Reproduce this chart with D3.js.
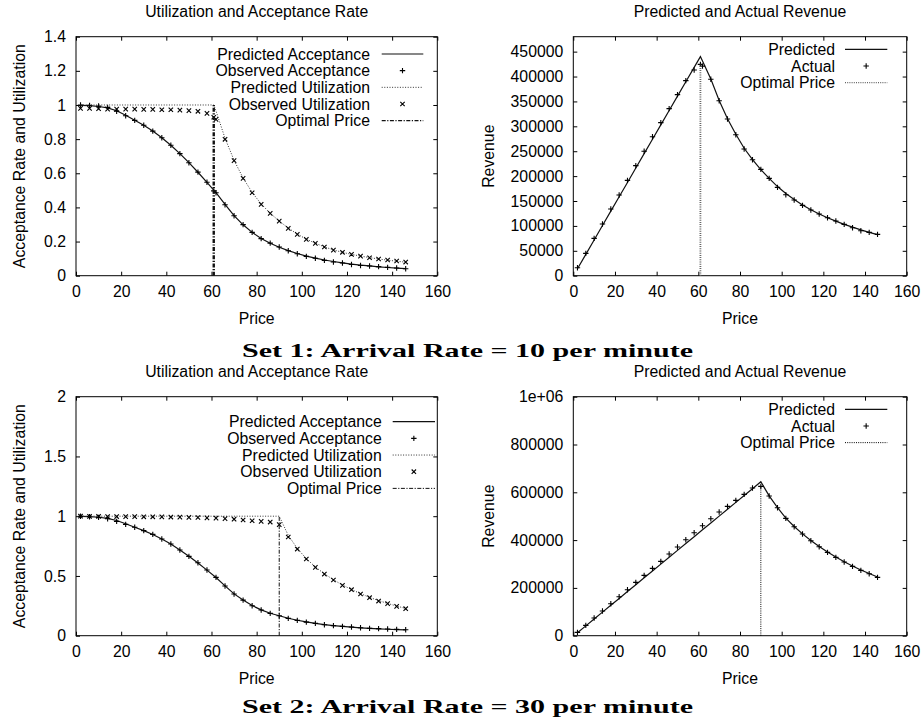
<!DOCTYPE html>
<html>
<head>
<meta charset="utf-8">
<script src="https://cdn.jsdelivr.net/npm/d3@7"></script>
<style>
    body { margin: 0; background: #fff; }
    svg text { font-family: "Liberation Sans", Arial, Helvetica, sans-serif; fill: #000; }
    svg text.caption { font-family: "Liberation Serif", "DejaVu Serif", serif; font-weight: bold; }
</style>
</head>
<body>
<div id="chart"></div>
<script>
// ---- data ----
var x_ticks = [0, 20, 40, 60, 80, 100, 120, 140, 160];
var util_ticks_1 = [0, 0.2, 0.4, 0.6, 0.8, 1, 1.2, 1.4];
var util_ticks_2 = [0, 0.5, 1, 1.5, 2];
var revenue_ticks_1 = [0, 50000, 100000, 150000, 200000, 250000, 300000, 350000, 400000, 450000];
var revenue_ticks_2 = [0, 200000, 400000, 600000, 800000, 1000000];

var captions = ["Set 1: Arrival Rate = 10 per minute", "Set 2: Arrival Rate = 30 per minute"];
var optimal_price = [61, 90];
var optimal_revenue = [424500, 624800];

// set 1 (10 per minute)
var price_1 = [2, 6, 10, 14, 18, 22, 26, 30, 34, 38, 42, 46, 50, 54, 58, 61, 62, 66, 70, 74,
    78, 82, 86, 90, 94, 98, 102, 106, 110, 114, 118, 122, 126, 130, 134, 138, 142, 146];
var pred_accept_1 = [0.998, 0.996, 0.991, 0.983, 0.966, 0.940, 0.911, 0.881, 0.847, 0.808,
    0.764, 0.715, 0.662, 0.606, 0.547, 0.501, 0.486, 0.418, 0.352, 0.298, 0.254, 0.218, 0.190,
    0.167, 0.147, 0.130, 0.115, 0.103, 0.092, 0.083, 0.075, 0.068, 0.062, 0.057, 0.052, 0.048,
    0.044, 0.041];
var obs_accept_1 = [1.0, 0.998, 0.994, 0.986, 0.963, 0.937, 0.910, 0.881, 0.847, 0.808, 0.764,
    0.715, 0.662, 0.607, 0.547, 0.497, 0.486, 0.416, 0.351, 0.299, 0.254, 0.217, 0.191, 0.168,
    0.146, 0.129, 0.113, 0.102, 0.090, 0.080, 0.074, 0.066, 0.060, 0.057, 0.053, 0.049, 0.045,
    0.041];
var pred_util_1 = [1, 1, 1, 1, 1, 1, 1, 1, 1, 1, 1, 1, 1, 1, 1, 1, 0.965, 0.805, 0.676, 0.572,
    0.488, 0.420, 0.366, 0.320, 0.279, 0.244, 0.214, 0.190, 0.169, 0.151, 0.137, 0.125, 0.115,
    0.106, 0.098, 0.091, 0.085, 0.079];
var obs_util_1 = [0.980, 0.980, 0.978, 0.976, 0.976, 0.976, 0.976, 0.974, 0.974, 0.972, 0.972,
    0.970, 0.967, 0.963, 0.951, 0.928, 0.916, 0.799, 0.674, 0.570, 0.486, 0.418, 0.365, 0.320,
    0.277, 0.242, 0.213, 0.189, 0.168, 0.150, 0.137, 0.125, 0.115, 0.105, 0.098, 0.092, 0.086,
    0.080];
var pred_revenue_1 = [14000, 42900, 71800, 100700, 129600, 158500, 187300, 216200, 245100,
    274000, 302900, 331700, 360600, 389500, 418400, 440000, 431000, 395000, 352000, 315000,
    284000, 256000, 233000, 213000, 195500, 179000, 165000, 153000, 142000, 132500, 124000,
    116500, 109500, 103000, 97500, 92000, 87000, 82500];
var obs_revenue_1 = [16000, 44900, 75000, 103800, 133900, 162000, 191500, 221000, 249800,
    279200, 307400, 335500, 363600, 391700, 413100, 424500, 421000, 394400, 351500, 314700,
    283200, 254400, 233000, 213600, 195500, 177400, 162700, 152000, 141300, 131900, 123900,
    116500, 109800, 103100, 96400, 90400, 87000, 83000];

// set 2 (30 per minute)
var price_2 = [2, 6, 10, 14, 18, 22, 26, 30, 34, 38, 42, 46, 50, 54, 58, 62, 66, 70, 74, 78,
    82, 86, 90, 94, 98, 102, 106, 110, 114, 118, 122, 126, 130, 134, 138, 142, 146];
var pred_accept_2 = [0.998, 0.996, 0.991, 0.982, 0.964, 0.937, 0.908, 0.879, 0.847, 0.809,
    0.767, 0.717, 0.664, 0.609, 0.549, 0.487, 0.417, 0.350, 0.298, 0.252, 0.216, 0.188, 0.167,
    0.146, 0.129, 0.115, 0.103, 0.093, 0.085, 0.078, 0.072, 0.066, 0.061, 0.057, 0.054, 0.051,
    0.048];
var obs_accept_2 = [0.999, 0.996, 0.990, 0.979, 0.957, 0.932, 0.907, 0.879, 0.848, 0.809,
    0.767, 0.717, 0.664, 0.611, 0.550, 0.488, 0.416, 0.349, 0.298, 0.251, 0.215, 0.187, 0.167,
    0.145, 0.128, 0.114, 0.103, 0.092, 0.084, 0.078, 0.073, 0.067, 0.061, 0.059, 0.056, 0.053,
    0.050];
var pred_util_2 = [1, 1, 1, 1, 1, 1, 1, 1, 1, 1, 1, 1, 1, 1, 1, 1, 1, 1, 1, 1, 1, 1, 1,
    0.840, 0.730, 0.645, 0.575, 0.518, 0.468, 0.424, 0.387, 0.352, 0.321, 0.294, 0.270, 0.248,
    0.228];
var obs_util_2 = [1.0, 0.998, 0.998, 0.997, 0.997, 0.996, 0.996, 0.995, 0.995, 0.994, 0.993,
    0.992, 0.990, 0.989, 0.986, 0.984, 0.980, 0.975, 0.968, 0.962, 0.957, 0.951, 0.930, 0.826,
    0.725, 0.642, 0.572, 0.516, 0.466, 0.421, 0.385, 0.349, 0.318, 0.290, 0.268, 0.245, 0.226];
var pred_revenue_2 = [12500, 41200, 69900, 98600, 127300, 156000, 184700, 213400, 242100,
    270800, 299500, 328200, 356900, 385600, 414300, 443000, 471700, 500400, 529100, 557800,
    586500, 615200, 644000, 585000, 536000, 492000, 457000, 426000, 398000, 373000, 350000,
    329000, 309500, 291500, 275000, 260000, 245500];
var obs_revenue_2 = [13900, 43200, 73900, 103200, 133900, 163200, 192500, 223200, 252400,
    281700, 311000, 341700, 371000, 401700, 431000, 460300, 489500, 517400, 541100, 566200,
    591400, 617800, 624800, 584400, 535600, 490900, 456100, 425400, 397500, 372400, 348700,
    327800, 308200, 290100, 273400, 259400, 244100];

// ---- drawing ----
var font_size = 15.8;

function plus_path(px, py) {
    return "M" + (px - 2.7) + "," + py + "H" + (px + 2.7) + "M" + px + "," + (py - 2.7) + "V" + (py + 2.7);
}
function cross_path(px, py) {
    return "M" + (px - 2.2) + "," + (py - 2.2) + "L" + (px + 2.2) + "," + (py + 2.2) +
        "M" + (px - 2.2) + "," + (py + 2.2) + "L" + (px + 2.2) + "," + (py - 2.2);
}

function util_format(v) {
    return String(v);
}
function rev_format(v) {
    return v >= 1000000 ? "1e+06" : String(v);
}

function draw_panel(svg, box, cfg) {
    var x = d3.scaleLinear().domain([0, 160]).range([box.left, box.right]);
    var y = d3.scaleLinear().domain(cfg.y_domain).range([box.bottom, box.top]);
    var g = svg.append("g");

    // axes, gnuplot style: inward ticks mirrored on all sides
    g.append("g")
        .attr("transform", "translate(0," + box.bottom + ")")
        .style("font-size", font_size + "px")
        .call(d3.axisBottom(x).tickValues(x_ticks).tickSizeInner(-4).tickSizeOuter(0).tickPadding(10.5))
        .call(function (a) { a.select(".domain").remove(); });
    g.append("g")
        .attr("transform", "translate(0," + box.top + ")")
        .call(d3.axisTop(x).tickValues(x_ticks).tickSizeInner(-4).tickSizeOuter(0).tickFormat(""))
        .call(function (a) { a.select(".domain").remove(); });
    g.append("g")
        .attr("transform", "translate(" + box.left + ",0)")
        .style("font-size", font_size + "px")
        .call(d3.axisLeft(y).tickValues(cfg.y_ticks).tickSizeInner(-4).tickSizeOuter(0)
            .tickPadding(10).tickFormat(cfg.y_format))
        .call(function (a) { a.select(".domain").remove(); });
    g.append("g")
        .attr("transform", "translate(" + box.right + ",0)")
        .call(d3.axisRight(y).tickValues(cfg.y_ticks).tickSizeInner(-4).tickSizeOuter(0).tickFormat(""))
        .call(function (a) { a.select(".domain").remove(); });
    g.selectAll(".tick line").attr("stroke", "#000");
    g.selectAll(".tick text").attr("fill", "#000").attr("font-family", null);

    g.append("rect")
        .attr("x", box.left).attr("y", box.top)
        .attr("width", box.right - box.left).attr("height", box.bottom - box.top)
        .attr("fill", "none").attr("stroke", "#000").attr("stroke-width", 1);

    // title and axis labels
    g.append("text")
        .attr("x", (box.left + box.right) / 2).attr("y", box.top - 20)
        .attr("text-anchor", "middle").style("font-size", font_size + "px")
        .text(cfg.title);
    g.append("text")
        .attr("x", (box.left + box.right) / 2).attr("y", box.bottom + 48.5)
        .attr("text-anchor", "middle").style("font-size", font_size + "px")
        .text("Price");
    g.append("text")
        .attr("transform", "translate(" + cfg.ylabel_x + "," + (box.top + box.bottom) / 2 + ") rotate(-90)")
        .attr("dy", "0.35em")
        .attr("text-anchor", "middle").style("font-size", font_size + "px")
        .text(cfg.y_label);

    var line = d3.line()
        .x(function (d) { return x(d[0]); })
        .y(function (d) { return y(d[1]); });

    // series
    cfg.series.forEach(function (s) {
        var pts = d3.zip(s.xs, s.ys);
        if (s.kind == "line") {
            g.append("path").datum(pts)
                .attr("d", line)
                .attr("fill", "none")
                .attr("stroke", s.color)
                .attr("stroke-width", s.width)
                .attr("stroke-dasharray", s.dash);
        } else {
            g.selectAll(null).data(pts).enter().append("path")
                .attr("d", function (d) {
                    return s.kind == "plus" ? plus_path(x(d[0]), y(d[1])) : cross_path(x(d[0]), y(d[1]));
                })
                .attr("fill", "none")
                .attr("stroke", "#000")
                .attr("stroke-width", 1.1);
        }
    });

    // legend
    var lg = cfg.legend;
    cfg.series.forEach(function (s, i) {
        var cy = lg.y + i * 16.67;
        g.append("text")
            .attr("x", lg.text_x).attr("y", cy).attr("dy", "0.36em")
            .attr("text-anchor", "end").style("font-size", font_size + "px")
            .text(s.name);
        if (s.kind == "line") {
            g.append("line")
                .attr("x1", lg.x1).attr("x2", lg.x2).attr("y1", cy).attr("y2", cy)
                .attr("stroke", s.color).attr("stroke-width", Math.min(s.width, 1.3))
                .attr("stroke-dasharray", s.dash);
        } else {
            var mx = (lg.x1 + lg.x2) / 2;
            g.append("path")
                .attr("d", s.kind == "plus" ? plus_path(mx, cy) : cross_path(mx, cy))
                .attr("fill", "none").attr("stroke", "#000").attr("stroke-width", 1.1);
        }
    });
}

function draw_all() {
    var svg = d3.select("#chart")
        .append("svg")
        .attr("width", 922)
        .attr("height", 726);

    var left_box = { left: 76, right: 437.3 };
    var right_box = { left: 573.3, right: 906.7 };
    var rows = [{ top: 36.7, bottom: 275.7 }, { top: 396.7, bottom: 635.7 }];

    var sets = [
        { price: price_1, pa: pred_accept_1, oa: obs_accept_1, pu: pred_util_1, ou: obs_util_1,
          pr: pred_revenue_1, or: obs_revenue_1, u_dom: [0, 1.4], u_ticks: util_ticks_1,
          r_dom: [0, 480000], r_ticks: revenue_ticks_1,
          opt_u_width: 2.4, opt_r_width: 1.8, opt_r_color: "#666",
          u_leg: { text_x: 370, x1: 381.7, x2: 423.3, y: 54 } },
        { price: price_2, pa: pred_accept_2, oa: obs_accept_2, pu: pred_util_2, ou: obs_util_2,
          pr: pred_revenue_2, or: obs_revenue_2, u_dom: [0, 2], u_ticks: util_ticks_2,
          r_dom: [0, 1000000], r_ticks: revenue_ticks_2,
          opt_u_width: 1, opt_r_width: 1, opt_r_color: "#000",
          u_leg: { text_x: 381.7, x1: 392.7, x2: 435, y: 61.7 } }
    ];

    sets.forEach(function (s, k) {
        var row = rows[k];
        var opt = optimal_price[k];
        draw_panel(svg,
            { left: left_box.left, right: left_box.right, top: row.top, bottom: row.bottom },
            {
                title: "Utilization and Acceptance Rate",
                y_label: "Acceptance Rate and Utilization",
                ylabel_x: 19.3,
                y_domain: s.u_dom, y_ticks: s.u_ticks, y_format: util_format,
                legend: { text_x: s.u_leg.text_x, x1: s.u_leg.x1, x2: s.u_leg.x2, y: row.top + s.u_leg.y - 36.7 },
                series: [
                    { name: "Predicted Acceptance", kind: "line", xs: s.price, ys: s.pa, color: "#111", width: 1.2, dash: null },
                    { name: "Observed Acceptance", kind: "plus", xs: s.price, ys: s.oa },
                    { name: "Predicted Utilization", kind: "line", xs: s.price, ys: s.pu, color: "#333", width: 1, dash: "1,1.6" },
                    { name: "Observed Utilization", kind: "cross", xs: s.price, ys: s.ou },
                    { name: "Optimal Price", kind: "line", xs: [opt, opt], ys: [0, 1], color: "#111", width: s.opt_u_width, dash: "4,1.5,1.2,1.5" }
                ]
            });
        draw_panel(svg,
            { left: right_box.left, right: right_box.right, top: row.top, bottom: row.bottom },
            {
                title: "Predicted and Actual Revenue",
                y_label: "Revenue",
                ylabel_x: 488.3,
                y_domain: s.r_dom, y_ticks: s.r_ticks, y_format: rev_format,
                legend: { text_x: 835, x1: 845, x2: 887.3, y: row.top + 12.6 },
                series: [
                    { name: "Predicted", kind: "line", xs: s.price, ys: s.pr, color: "#111", width: 1.2, dash: null },
                    { name: "Actual", kind: "plus", xs: s.price, ys: s.or },
                    { name: "Optimal Price", kind: "line", xs: [opt, opt], ys: [0, optimal_revenue[k]], color: s.opt_r_color, width: s.opt_r_width, dash: "1,1.2" }
                ]
            });

        svg.append("text")
            .attr("class", "caption")
            .attr("x", 467.5)
            .attr("y", k == 0 ? 357 : 713)
            .attr("text-anchor", "middle")
            .attr("textLength", 451)
            .attr("lengthAdjust", "spacingAndGlyphs")
            .style("font-size", "19px")
            .text(captions[k]);
    });
}

draw_all();
</script>
</body>
</html>
